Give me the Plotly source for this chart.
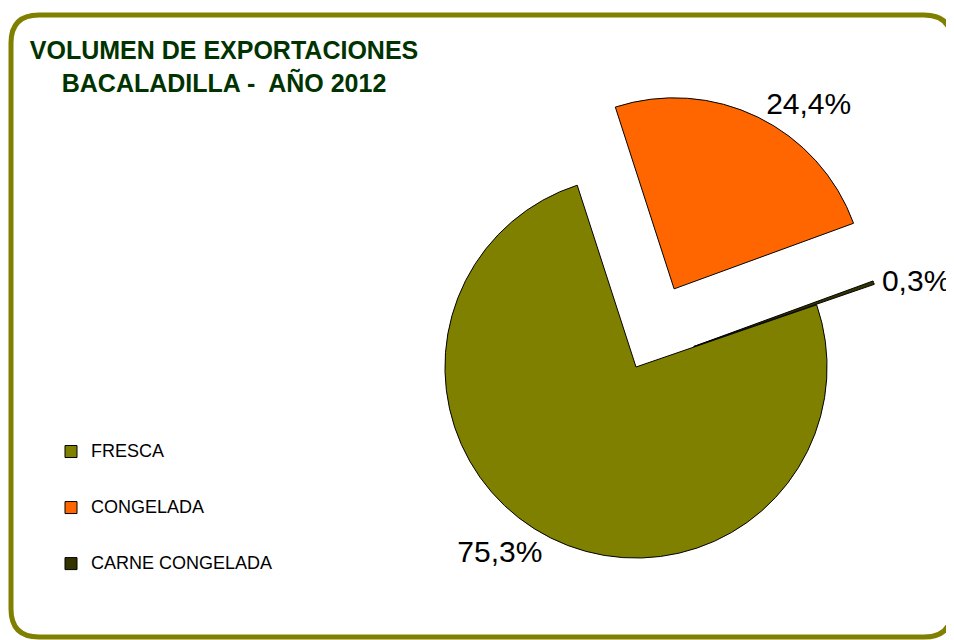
import plotly.graph_objects as go

# ---- data ----
categories = ["FRESCA", "CONGELADA", "CARNE CONGELADA"]
shares = [75.3, 24.4, 0.3]          # % of export volume
slice_colors = ["#808000", "#FF6600", "#333300"]
pulls = [0.0, 0.455, 0.32]
title_lines = ["VOLUMEN DE EXPORTACIONES", "BACALADILLA -  AÑO 2012"]

W, H = 954, 640
OFF = 8   # the page body margin shifts the figure by this many pixels
FONT = "Liberation Sans, Arial, sans-serif"

# legend entries padded with blank lines to reproduce the wide entry spacing
legend_labels = [f"<br><span style='font-size:18px'>{c}</span><br>" for c in categories]


def fx(x):  # page pixel -> paper x
    return (x - OFF) / W


def fy(y):  # page pixel -> paper y
    return 1 - (y - OFF) / H


cx_pix, top_pix, bot_pix = 636, 89, 645
fig = go.Figure(go.Pie(
    labels=legend_labels,
    values=shares,
    sort=False,
    direction="clockwise",
    rotation=71,
    pull=pulls,
    automargin=False,
    marker=dict(colors=slice_colors, line=dict(color="black", width=1)),
    texttemplate="%{value:.1f}%",
    textposition="outside",
    outsidetextfont=dict(family=FONT, size=30, color="black"),
    hoverinfo="skip",
    domain=dict(x=[fx(cx_pix) - 0.31, fx(cx_pix) + 0.31], y=[fy(bot_pix), fy(top_pix)]),
))

x0, y0, x1, y1, r = 11, 15, 952, 637, 28
path = (f"M {fx(x0 + r)} {fy(y0)} L {fx(x1 - r)} {fy(y0)} "
        f"Q {fx(x1)} {fy(y0)} {fx(x1)} {fy(y0 + r)} "
        f"L {fx(x1)} {fy(y1 - r)} Q {fx(x1)} {fy(y1)} {fx(x1 - r)} {fy(y1)} "
        f"L {fx(x0 + r)} {fy(y1)} Q {fx(x0)} {fy(y1)} {fx(x0)} {fy(y1 - r)} "
        f"L {fx(x0)} {fy(y0 + r)} Q {fx(x0)} {fy(y0)} {fx(x0 + r)} {fy(y0)} Z")

fig.update_layout(
    width=W, height=H,
    margin=dict(l=0, r=0, t=0, b=0, pad=0, autoexpand=False),
    paper_bgcolor="white",
    separators=",.",
    font=dict(family=FONT, color="black"),
    title=dict(
        text="<b>" + "<br>".join(title_lines) + "</b>",
        font=dict(family=FONT, size=25, color="#003300"),
        x=fx(224), xanchor="center", xref="paper",
        y=1 - 51 / H, yanchor="top", yref="container",
        automargin=False,
    ),
    showlegend=True,
    legend=dict(
        x=fx(51), xanchor="left",
        y=fy(508), yanchor="middle",
        font=dict(family=FONT, size=13.6, color="black"),
        bgcolor="rgba(0,0,0,0)",
        traceorder="normal",
    ),
    shapes=[dict(type="path", xref="paper", yref="paper", path=path,
                 line=dict(color="#808000", width=5), fillcolor="rgba(0,0,0,0)",
                 layer="above")],
)

fig.write_html("out.html")
